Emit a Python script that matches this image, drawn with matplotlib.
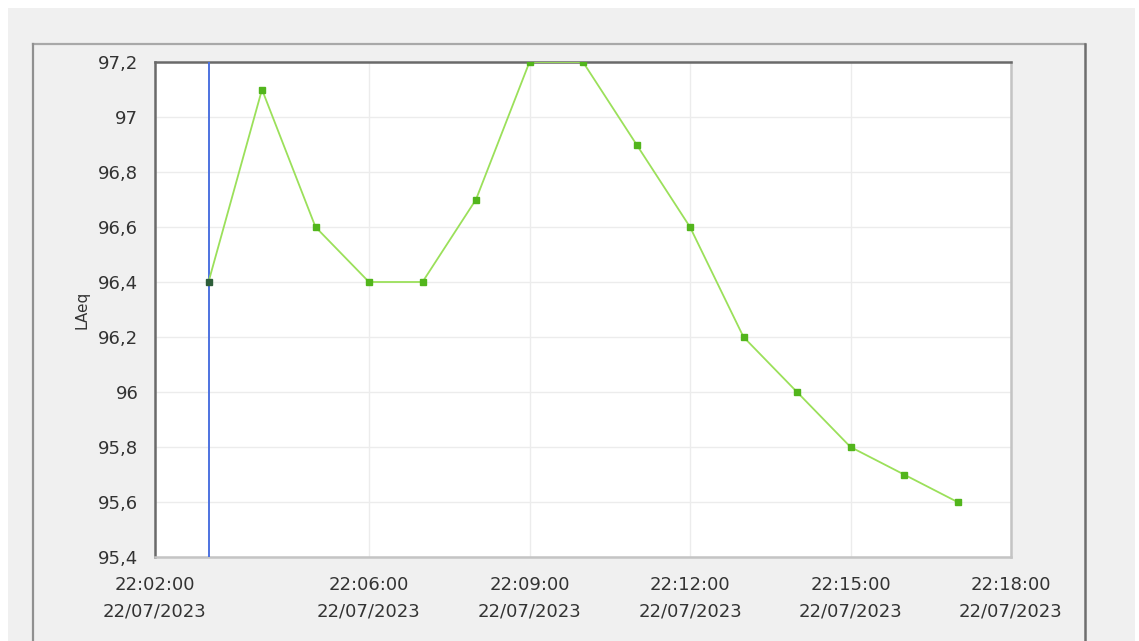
import matplotlib
matplotlib.use("Agg")
import matplotlib.pyplot as plt
import matplotlib.dates as mdates
from matplotlib.patches import Rectangle
from matplotlib.lines import Line2D
from matplotlib.ticker import FuncFormatter, FixedLocator
from datetime import datetime

# data (one reading per minute)
times = ["22:03", "22:04", "22:05", "22:06", "22:07", "22:08", "22:09", "22:10",
         "22:11", "22:12", "22:13", "22:14", "22:15", "22:16", "22:17"]
laeq = [96.4, 97.1, 96.6, 96.4, 96.4, 96.7, 97.2, 97.2,
        96.9, 96.6, 96.2, 96.0, 95.8, 95.7, 95.6]
tick_times = ["22:02", "22:06", "22:09", "22:12", "22:15", "22:18"]
y_ticks = [95.4, 95.6, 95.8, 96.0, 96.2, 96.4, 96.6, 96.8, 97.0, 97.2]
cursor_time = "22:03"
day = "2023-07-22"


def to_dt(t):
    return datetime.strptime(day + " " + t, "%Y-%m-%d %H:%M")


x = [to_dt(t) for t in times]
xt = [mdates.date2num(to_dt(t)) for t in tick_times]

W, H = 1139, 641
fig = plt.figure(figsize=(W / 100, H / 100), dpi=100, facecolor="white")


def fx(px):
    return px / W


def fy(py):
    return 1 - py / H


# window background and the inner panel frame
fig.add_artist(Rectangle((fx(8), 0), fx(1135 - 8), fy(8), transform=fig.transFigure,
                         facecolor="#f0f0f0", edgecolor="none", zorder=0))
fig.add_artist(Line2D([fx(33), fx(1085)], [fy(43.5), fy(43.5)], transform=fig.transFigure,
                      color="#a8a8a8", lw=1.6))
fig.add_artist(Line2D([fx(33), fx(33)], [fy(43.5), 0], transform=fig.transFigure,
                      color="#909090", lw=1.6))
fig.add_artist(Line2D([fx(1085), fx(1085)], [fy(43.5), 0], transform=fig.transFigure,
                      color="#6e6e6e", lw=1.8))

ax = fig.add_axes([fx(155), fy(557), fx(1011 - 155), fy(62) - fy(557)])
ax.set_facecolor("white")

ax.set_xlim(xt[0], xt[-1])
ax.set_ylim(95.4, 97.2)

ax.grid(True, color="#ececec", lw=1)
ax.set_axisbelow(True)

ax.axvline(to_dt(cursor_time), color="#4d72e0", lw=1.4, zorder=3)
ax.plot(x, laeq, color="#9be05a", lw=1.3, zorder=4)
ax.plot(x[1:], laeq[1:], ls="none", marker="s", ms=5, color="#52b51c", zorder=5)
ax.plot(x[:1], laeq[:1], ls="none", marker="s", ms=5, color="#2e5e3a", zorder=5)

ax.xaxis.set_major_locator(FixedLocator(xt))
ax.xaxis.set_major_formatter(mdates.DateFormatter("%H:%M:%S\n%d/%m/%Y"))
ax.yaxis.set_major_locator(FixedLocator(y_ticks))
ax.yaxis.set_major_formatter(FuncFormatter(lambda v, p: ("%g" % round(v, 1)).replace(".", ",")))

ax.tick_params(axis="both", length=0, labelsize=13, colors="#333333")
ax.tick_params(axis="y", pad=12)
ax.tick_params(axis="x", pad=14)
for lab in ax.get_xticklabels():
    lab.set_linespacing(1.6)

ax.set_ylabel("LAeq", fontsize=11, color="#333333")
ax.yaxis.set_label_coords(-0.077, 0.5)

for s in ["top", "left"]:
    ax.spines[s].set_color("#6a6a6a")
    ax.spines[s].set_linewidth(1.8)
for s in ["right", "bottom"]:
    ax.spines[s].set_color("#c4c4c4")
    ax.spines[s].set_linewidth(1.8)

fig.savefig("out.png", dpi=100, facecolor=fig.get_facecolor())
